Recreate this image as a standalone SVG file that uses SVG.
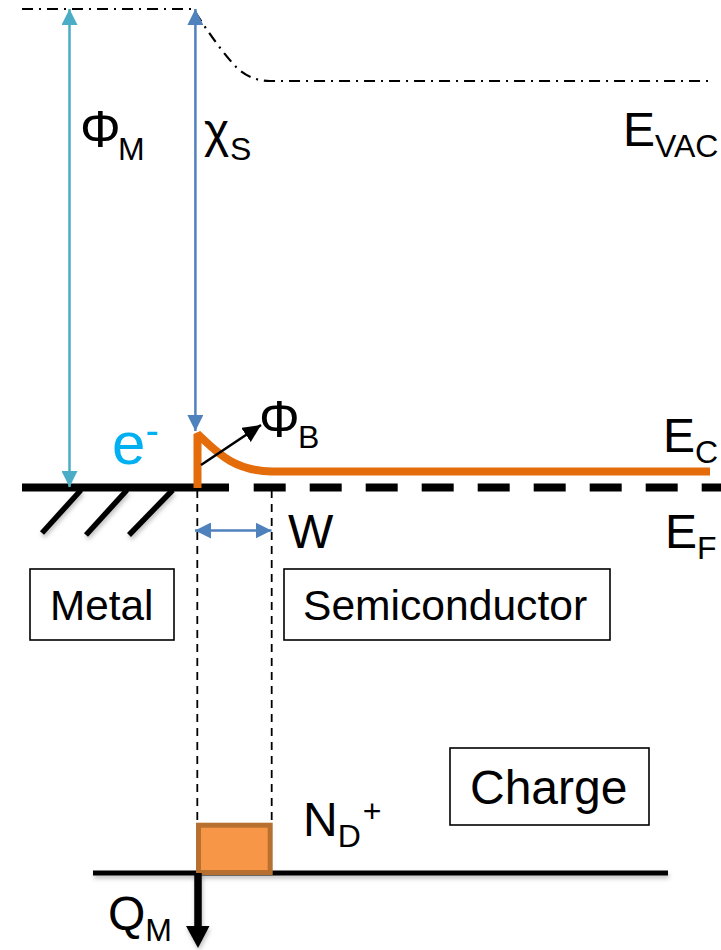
<svg xmlns="http://www.w3.org/2000/svg" width="721" height="950" viewBox="0 0 721 950">
<style>
text{font-family:"Liberation Sans",Arial,sans-serif;fill:#000}
.l{font-size:48px}.s{font-size:32px}.b{font-size:42.300px}.p{font-size:51px}
.box{fill:#fff;stroke:#000;stroke-width:1.600}
.thin{fill:none;stroke:#000;stroke-width:1.800;stroke-dasharray:8 6}
</style>
<defs>
<filter id="sh" filterUnits="userSpaceOnUse" x="0" y="0" width="721" height="950"><feDropShadow dx="1" dy="3" stdDeviation="2" flood-color="#000" flood-opacity="0.25"/></filter>
<marker id="aTeal" markerUnits="userSpaceOnUse" markerWidth="16" markerHeight="16" refX="16" refY="8" orient="auto-start-reverse"><path d="M0 0L16 8L0 16Z" fill="#4bacc6"/></marker>
<marker id="aBlue" markerUnits="userSpaceOnUse" markerWidth="16" markerHeight="16" refX="16" refY="8" orient="auto-start-reverse"><path d="M0 0L16 8L0 16Z" fill="#4f81bd"/></marker>
<marker id="aBlack" markerUnits="userSpaceOnUse" markerWidth="18" markerHeight="17" refX="18" refY="8.500" orient="auto"><path d="M0 0L18 8.500L0 17Z" fill="#000"/></marker>
</defs>
<g id="connectors">
<path d="M22 9H193C205 27 220 50 237 68C245 75 255 81 270 81H708" fill="none" stroke="#000" stroke-width="2.200" stroke-dasharray="11 6 2 6"/>
<path class="thin" d="M197.300 490V823"/>
<path class="thin" d="M271.700 490V823"/>
<g filter="url(#sh)" stroke="#000" stroke-width="5.500" fill="none">
<path d="M81 490L42 533"/><path d="M127 490L86 535"/><path d="M172.700 490L129 535"/>
</g>
<path d="M22 487.500H229" stroke="#000" stroke-width="8"/>
<path d="M253.700 487.500H721" stroke="#000" stroke-width="8" stroke-dasharray="32 24"/>
<path d="M69.500 9V487" fill="none" stroke="#4bacc6" stroke-width="2.500" marker-start="url(#aTeal)" marker-end="url(#aTeal)"/>
<path d="M195.400 9V431" fill="none" stroke="#4f81bd" stroke-width="2.500" marker-start="url(#aBlue)" marker-end="url(#aBlue)"/>
<path d="M195 530.500H271.500" fill="none" stroke="#4f81bd" stroke-width="2.500" marker-start="url(#aBlue)" marker-end="url(#aBlue)"/>
<path d="M197.500 488V434C215 450 232 471 272 471.500H710" fill="none" stroke="#e46c0a" stroke-width="8" stroke-linejoin="bevel"/>
<path d="M201 465L261 425" fill="none" stroke="#000" stroke-width="2.500" marker-end="url(#aBlack)"/>
<path d="M93 873H668" filter="url(#sh)" stroke="#000" stroke-width="5"/>
</g>
<g id="charge-block"><rect x="198.500" y="825.200" width="71.700" height="47.300" fill="#f79646" stroke="#b7702f" stroke-width="5"/></g>
<g id="qm-arrow" filter="url(#sh)"><path d="M198 873V928" stroke="#000" stroke-width="7.500"/><path d="M186 926H209.500L198 948Z" fill="#000"/></g>
<g id="metal"><rect class="box" x="30" y="569" width="144" height="71"/><text class="b" x="50" y="620">Metal</text></g>
<g id="semiconductor"><rect class="box" x="284" y="569" width="326" height="71"/><text class="b" x="303" y="620" style="font-size:42.600px">Semiconductor</text></g>
<g id="charge"><rect class="box" x="450" y="748" width="199" height="77"/><text class="l" x="470" y="804">Charge</text></g>
<g id="labels">
<text class="p" x="80" y="147">Φ<tspan class="s" x="118" y="160">M</tspan></text>
<text class="l" x="204" y="147">χ<tspan class="s" x="230" y="160">S</tspan></text>
<text class="l" x="623" y="146">E<tspan class="s" y="157">VAC</tspan></text>
<text x="112" y="464" style="font-size:60px;fill:#00b0f0">e<tspan dy="-20" style="font-size:40px;fill:#00b0f0">-</tspan></text>
<text class="p" x="259" y="437">Φ<tspan class="s" x="298" y="448">B</tspan></text>
<text class="l" x="663" y="452">E<tspan class="s" y="463">C</tspan></text>
<text class="l" x="665" y="548">E<tspan class="s" y="559">F</tspan></text>
<text class="l" x="288" y="548">W</text>
<text class="l" x="303" y="836">N<tspan class="s" y="847">D</tspan><tspan class="s" y="822" dx="2">+</tspan></text>
<text class="l" x="108" y="930">Q<tspan class="s" y="941">M</tspan></text>
</g>
</svg>
